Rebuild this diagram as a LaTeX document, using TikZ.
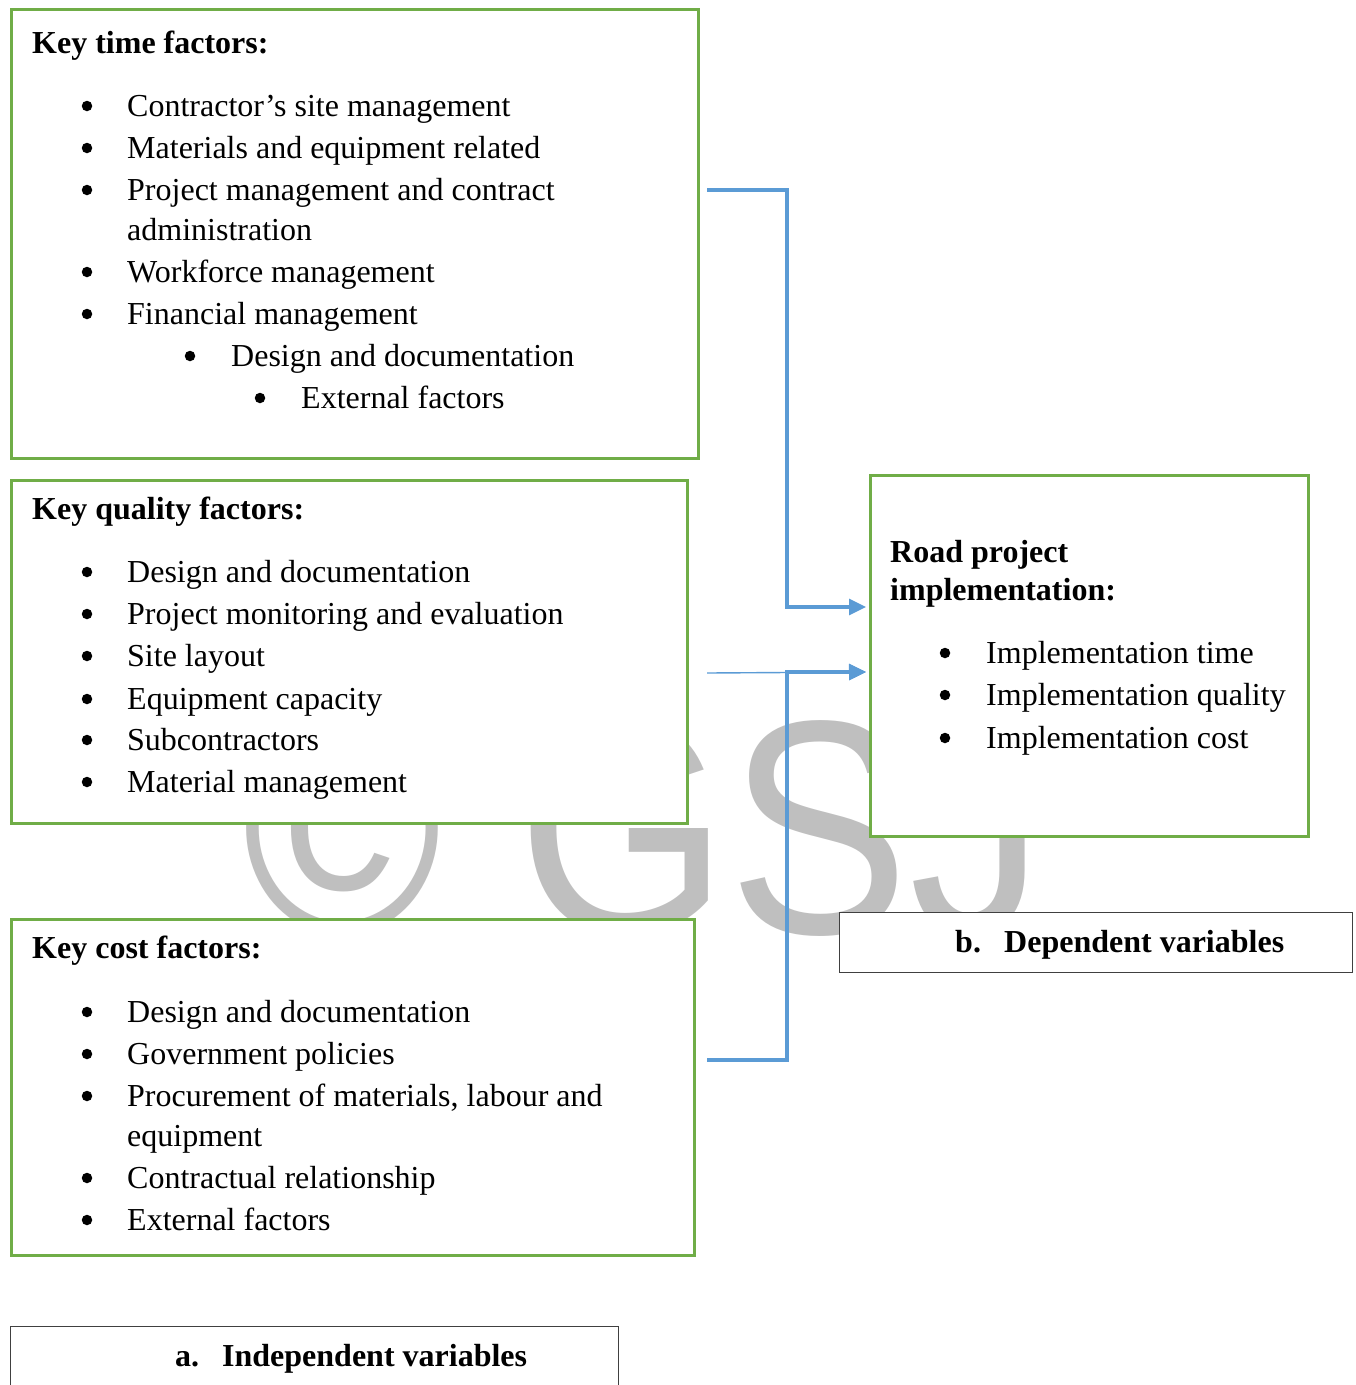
\documentclass[tikz,border=0pt]{standalone}
\usepackage{fontspec}
\setmainfont{Liberation Serif}
\setsansfont{Liberation Sans}
\usetikzlibrary{arrows.meta}

\definecolor{boxgreen}{HTML}{70AD47}
\definecolor{linkblue}{HTML}{5B9BD5}
\definecolor{wmgray}{HTML}{BFBFBF}

\tikzset{
	greenbox/.style={draw=boxgreen, line width=2.5pt, fill=white, anchor=north west, inner sep=0pt},
	labelbox/.style={draw=black!75, line width=1.3pt, fill=white, anchor=north west, inner sep=0pt},
	item/.style={anchor=base west, inner sep=0pt, font=\fontsize{32}{42}\selectfont},
	head/.style={item, font=\fontsize{32}{42}\selectfont\bfseries},
	dot/.style={circle, fill=black, inner sep=0pt, minimum size=10.5pt, yshift=10pt},
	link/.style={draw=linkblue, line width=3.2pt},
	tip/.style={-{Triangle[length=17pt, width=16pt]}}
}

\begin{document}
\begin{tikzpicture}[x=1pt, y=-1pt]
	\useasboundingbox (0,0) rectangle (1356,1385);

	\node[anchor=base west, inner sep=0pt, text=wmgray, font=\fontsize{305}{305}\sffamily, xscale=0.89, transform shape] (wm) at (242,933) {© GSJ};

	\node[greenbox, minimum width=687pt, minimum height=449pt] (timebox) at (10,8) {};
	\node[greenbox, minimum width=676pt, minimum height=343pt] (qualbox) at (10,479) {};
	\node[greenbox, minimum width=683pt, minimum height=336pt] (costbox) at (10,918) {};
	\node[greenbox, minimum width=438pt, minimum height=361pt] (roadbox) at (869,474) {};

	\node[labelbox, minimum width=513pt, minimum height=60pt] (depbox) at (839,912) {};
	\node[labelbox, minimum width=608pt, minimum height=90pt] (indbox) at (10,1326) {};

	\node[head] (timehead) at (32,53) {Key time factors:};
	\node[dot] (td1) at (87,116) {};
	\node[item] (t1) at (127,116) {Contractor’s site management};
	\node[dot] (td2) at (87,158) {};
	\node[item] (t2) at (127,158) {Materials and equipment related};
	\node[dot] (td3) at (87,200) {};
	\node[item] (t3) at (127,200) {Project management and contract};
	\node[item] (t3b) at (127,240) {administration};
	\node[dot] (td4) at (87,282) {};
	\node[item] (t4) at (127,282) {Workforce management};
	\node[dot] (td5) at (87,324) {};
	\node[item] (t5) at (127,324) {Financial management};
	\node[dot] (td6) at (190,366) {};
	\node[item] (t6) at (231,366) {Design and documentation};
	\node[dot] (td7) at (260,408) {};
	\node[item] (t7) at (301,408) {External factors};

	\node[head] (qualhead) at (32,519) {Key quality factors:};
	\node[dot] (qd1) at (87,582) {};
	\node[item] (q1) at (127,582) {Design and documentation};
	\node[dot] (qd2) at (87,624) {};
	\node[item] (q2) at (127,624) {Project monitoring and evaluation};
	\node[dot] (qd3) at (87,666) {};
	\node[item] (q3) at (127,666) {Site layout};
	\node[dot] (qd4) at (87,709) {};
	\node[item] (q4) at (127,709) {Equipment capacity};
	\node[dot] (qd5) at (87,750) {};
	\node[item] (q5) at (127,750) {Subcontractors};
	\node[dot] (qd6) at (87,792) {};
	\node[item] (q6) at (127,792) {Material management};

	\node[head] (costhead) at (32,958) {Key cost factors:};
	\node[dot] (cd1) at (87,1022) {};
	\node[item] (c1) at (127,1022) {Design and documentation};
	\node[dot] (cd2) at (87,1064) {};
	\node[item] (c2) at (127,1064) {Government policies};
	\node[dot] (cd3) at (87,1106) {};
	\node[item] (c3) at (127,1106) {Procurement of materials, labour and};
	\node[item] (c3b) at (127,1146) {equipment};
	\node[dot] (cd4) at (87,1188) {};
	\node[item] (c4) at (127,1188) {Contractual relationship};
	\node[dot] (cd5) at (87,1230) {};
	\node[item] (c5) at (127,1230) {External factors};

	\node[head] (roadhead) at (890,562) {Road project};
	\node[head] (roadhead2) at (890,600) {implementation:};
	\node[dot] (rd1) at (945,663) {};
	\node[item] (r1) at (986,663) {Implementation time};
	\node[dot] (rd2) at (945,705) {};
	\node[item] (r2) at (986,705) {Implementation quality};
	\node[dot] (rd3) at (945,748) {};
	\node[item] (r3) at (986,748) {Implementation cost};

	\node[head] (deptag) at (955,952) {b.};
	\node[head] (deplabel) at (1004,952) {Dependent variables};
	\node[head] (indtag) at (175,1366) {a.};
	\node[head] (indlabel) at (222,1366) {Independent variables};

	\coordinate (timeout) at (707,190);
	\coordinate (qualout) at (707,673);
	\coordinate (costout) at (707,1060);
	\coordinate (bus) at (787,0);
	\coordinate (timein) at (866,607);
	\coordinate (qualin) at (866,672);

	\draw[link, line width=1.4pt, tip] (qualout) -- (qualin);
	\draw[link, tip] (timeout) -| (bus |- timein) -- (timein);
	\draw[link, tip] (costout) -| (bus |- qualin) -- (qualin);

\end{tikzpicture}
\end{document}
